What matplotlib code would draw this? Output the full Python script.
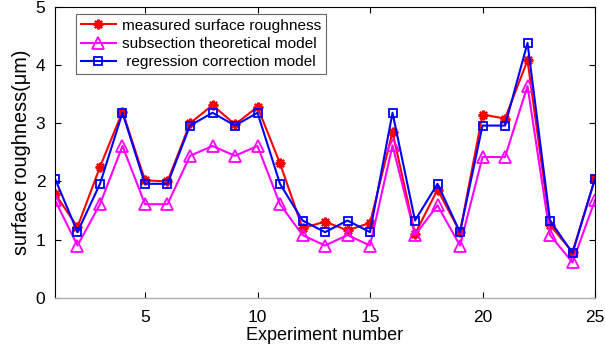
import matplotlib
matplotlib.use("Agg")
from matplotlib import pyplot as plt

plt.rcParams['font.family'] = ['Liberation Sans', 'DejaVu Sans']

experiment = list(range(1, 26))
measured = [1.79, 1.22, 2.25, 3.20, 2.02, 2.00, 3.00, 3.31, 2.98, 3.28,
            2.31, 1.20, 1.31, 1.16, 1.29, 2.85, 1.10, 1.86, 1.13, 3.15,
            3.08, 4.08, 1.25, 0.79, 2.05]
subsection = [1.68, 0.90, 1.61, 2.61, 1.61, 1.61, 2.44, 2.61, 2.44, 2.61,
              1.61, 1.08, 0.90, 1.08, 0.90, 2.62, 1.08, 1.59, 0.90, 2.42,
              2.42, 3.64, 1.08, 0.61, 1.68]
regression = [2.05, 1.13, 1.96, 3.18, 1.96, 1.96, 2.96, 3.18, 2.96, 3.18,
              1.96, 1.33, 1.13, 1.33, 1.13, 3.18, 1.33, 1.96, 1.13, 2.96,
              2.96, 4.38, 1.33, 0.77, 2.05]

fig = plt.figure(figsize=(6.05, 3.56), dpi=100)
ax = fig.add_axes([0.0909, 0.163, 0.8926, 0.818])

# matlab-like asterisk marker
ax.plot(experiment, measured, color='red', marker=(8, 2, 0), markersize=7,
        markeredgewidth=1.6, linewidth=1.5, label='measured surface roughness')
ax.plot(experiment, subsection, color='magenta', marker='^', markersize=8,
        markerfacecolor='none', markeredgewidth=1.3, linewidth=1.5,
        label='subsection theoretical model')
ax.plot(experiment, regression, color='blue', marker='s', markersize=6,
        markerfacecolor='none', markeredgewidth=1.3, linewidth=1.5,
        label=' regression correction model')

ax.set_xlim(1, 25)
ax.set_ylim(0, 5)
ax.set_xticks([5, 10, 15, 20, 25])
ax.set_yticks([0, 1, 2, 3, 4, 5])
ax.tick_params(direction='in', labelsize=12.5, top=True, right=True, length=4,
               width=0.8)
ax.tick_params(axis='x', pad=9)
ax.tick_params(axis='y', pad=7)
ax.spines['bottom'].set_color('#b0b0b0')
ax.spines['bottom'].set_linewidth(1.0)
ax.set_xlabel('Experiment number', fontsize=13, labelpad=1)
ax.set_ylabel('surface roughness(\u03bcm)', fontsize=14.3, labelpad=3)

leg = ax.legend(loc='upper left', bbox_to_anchor=(0.039, 0.975), fontsize=11.1,
                frameon=True, fancybox=False, edgecolor='#404040',
                handlelength=2.3, borderpad=0.3, labelspacing=0.28,
                handletextpad=0.4, borderaxespad=0)
leg.get_frame().set_linewidth(0.8)

fig.savefig('out.png', dpi=100)
